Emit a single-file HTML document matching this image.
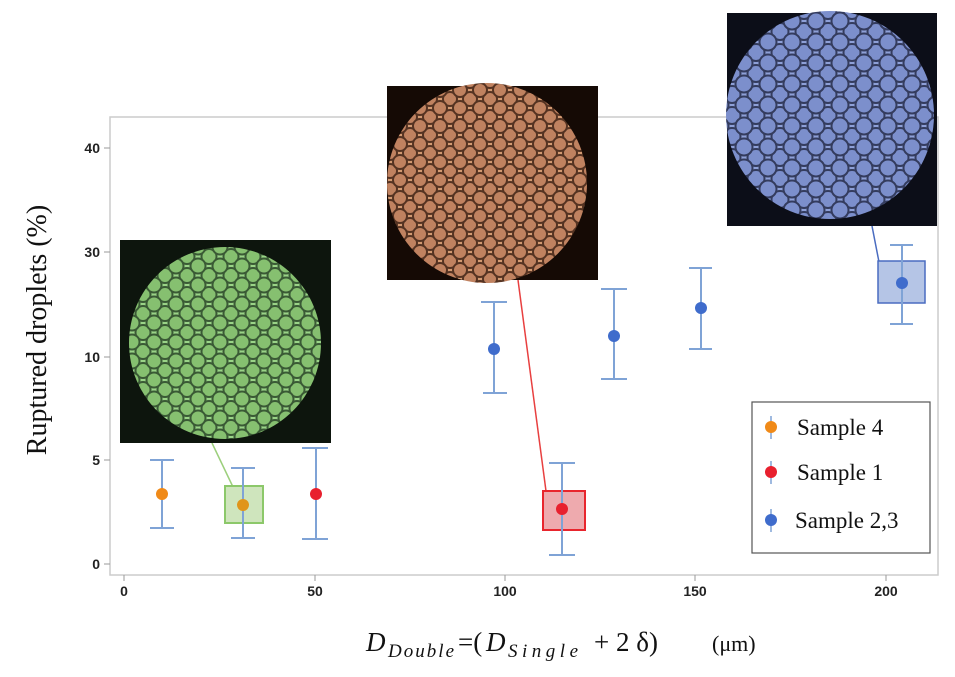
<!DOCTYPE html>
<html><head><meta charset="utf-8"><style>
body{margin:0;background:#fff;width:955px;height:672px;overflow:hidden}
</style></head><body>
<svg width="955" height="672" xmlns="http://www.w3.org/2000/svg" font-family="Liberation Sans, sans-serif">
<defs>
<pattern id="pg" width="22" height="19" patternUnits="userSpaceOnUse"><rect width="22" height="19" fill="#9ad487"/><circle cx="11" cy="9.5" r="7.5" fill="#86c070" stroke="#3a5a35" stroke-width="2"/><circle cx="0" cy="0" r="7.5" fill="#86c070" stroke="#3a5a35" stroke-width="2"/><circle cx="22" cy="0" r="7.5" fill="#86c070" stroke="#3a5a35" stroke-width="2"/><circle cx="0" cy="19" r="7.5" fill="#86c070" stroke="#3a5a35" stroke-width="2"/><circle cx="22" cy="19" r="7.5" fill="#86c070" stroke="#3a5a35" stroke-width="2"/></pattern>
<pattern id="po" width="20" height="18" patternUnits="userSpaceOnUse"><rect width="20" height="18" fill="#d39a72"/><circle cx="10" cy="9" r="7" fill="#c08260" stroke="#553322" stroke-width="2"/><circle cx="0" cy="0" r="7" fill="#c08260" stroke="#553322" stroke-width="2"/><circle cx="20" cy="0" r="7" fill="#c08260" stroke="#553322" stroke-width="2"/><circle cx="0" cy="18" r="7" fill="#c08260" stroke="#553322" stroke-width="2"/><circle cx="20" cy="18" r="7" fill="#c08260" stroke="#553322" stroke-width="2"/></pattern>
<pattern id="pb" width="24" height="21" patternUnits="userSpaceOnUse"><rect width="24" height="21" fill="#8ea0d8"/><circle cx="12" cy="10.5" r="8.5" fill="#7c8fcc" stroke="#343c5e" stroke-width="2"/><circle cx="0" cy="0" r="8.5" fill="#7c8fcc" stroke="#343c5e" stroke-width="2"/><circle cx="24" cy="0" r="8.5" fill="#7c8fcc" stroke="#343c5e" stroke-width="2"/><circle cx="0" cy="21" r="8.5" fill="#7c8fcc" stroke="#343c5e" stroke-width="2"/><circle cx="24" cy="21" r="8.5" fill="#7c8fcc" stroke="#343c5e" stroke-width="2"/></pattern>
</defs>
<rect x="110" y="117" width="828" height="458" fill="none" stroke="#ccc" stroke-width="1.5"/>
<g font-size="14" font-weight="bold" fill="#222" text-anchor="end">
<text x="100" y="153">40</text><text x="100" y="257">30</text><text x="100" y="362">10</text><text x="100" y="465">5</text><text x="100" y="569">0</text></g>
<g stroke="#999"><line x1="104" y1="148" x2="110" y2="148"/><line x1="104" y1="252" x2="110" y2="252"/><line x1="104" y1="357" x2="110" y2="357"/><line x1="104" y1="460" x2="110" y2="460"/><line x1="104" y1="564" x2="110" y2="564"/>
<line x1="124" y1="575" x2="124" y2="581"/><line x1="315" y1="575" x2="315" y2="581"/><line x1="505" y1="575" x2="505" y2="581"/><line x1="695" y1="575" x2="695" y2="581"/><line x1="886" y1="575" x2="886" y2="581"/></g>
<g font-size="14" font-weight="bold" fill="#222" text-anchor="middle">
<text x="124" y="596">0</text><text x="315" y="596">50</text><text x="505" y="596">100</text><text x="695" y="596">150</text><text x="886" y="596">200</text></g>
<text transform="translate(46,330) rotate(-90)" font-family="Liberation Serif, serif" font-size="28" text-anchor="middle" fill="#111">Ruptured droplets (%)</text>
<g font-family="Liberation Serif, serif" fill="#111">
<text x="366" y="651" font-size="27" font-style="italic">D</text>
<text x="388" y="657" font-size="19" font-style="italic" textLength="66">Double</text>
<text x="458" y="651" font-size="27">=(</text>
<text x="486" y="651" font-size="27" font-style="italic">D</text>
<text x="508" y="657" font-size="19" font-style="italic" textLength="70">Single</text>
<text x="594" y="651" font-size="27">+ 2 δ)</text>
<text x="712" y="651" font-size="22">(μm)</text>
</g>
<line x1="212" y1="443" x2="233" y2="487" stroke="#9ccf7c" stroke-width="1.5"/>
<line x1="518" y1="280" x2="546" y2="491" stroke="#e84040" stroke-width="1.5"/>
<line x1="872" y1="226" x2="879" y2="262" stroke="#4a6cc0" stroke-width="1.5"/>
<rect x="225" y="486" width="38" height="37" fill="#cfe5bd" stroke="#8cc86a" stroke-width="2"/>
<rect x="543" y="491" width="42" height="39" fill="#eeaaae" stroke="#e8252d" stroke-width="2"/>
<rect x="878" y="261" width="47" height="42" fill="#b5c5e6" stroke="#4a6cc0" stroke-width="1.5"/>
<g stroke="#7fa3d6" stroke-width="2" fill="none">
<path d="M162 460V528M150 460H174M150 528H174"/>
<path d="M243 468V538M231 468H255M231 538H255"/>
<path d="M316 448V539M302 448H328M302 539H328"/>
<path d="M494 302V393M481 302H507M483 393H507"/>
<path d="M562 463V555M549 463H575M549 555H575"/>
<path d="M614 289V379M601 289H627M601 379H627"/>
<path d="M701 268V349M689 268H712M689 349H712"/>
<path d="M902 245V324M890 245H913M890 324H913"/>
</g>
<circle cx="162" cy="494" r="6" fill="#f08a18"/>
<circle cx="243" cy="505" r="6" fill="#e0951a"/>
<circle cx="316" cy="494" r="6" fill="#e8202e"/>
<circle cx="494" cy="349" r="6" fill="#3f6ccc"/>
<circle cx="562" cy="509" r="6" fill="#e8202e"/>
<circle cx="614" cy="336" r="6" fill="#3f6ccc"/>
<circle cx="701" cy="308" r="6" fill="#3f6ccc"/>
<circle cx="902" cy="283" r="6" fill="#3f6ccc"/>
<rect x="120" y="240" width="211" height="203" fill="#0d150d"/>
<circle cx="225" cy="343" r="96" fill="url(#pg)"/>
<rect x="387" y="86" width="211" height="194" fill="#150a05"/>
<circle cx="487" cy="183" r="100" fill="url(#po)"/>
<rect x="727" y="13" width="210" height="213" fill="#0c0e18"/>
<circle cx="830" cy="115" r="104" fill="url(#pb)"/>
<rect x="752" y="402" width="178" height="151" fill="#fff" stroke="#555" stroke-width="1.2"/>
<g stroke="#7fa3d6" stroke-width="1.5"><line x1="771" y1="416" x2="771" y2="439"/><line x1="771" y1="461" x2="771" y2="484"/><line x1="771" y1="509" x2="771" y2="532"/></g>
<circle cx="771" cy="427" r="6" fill="#f08a18"/><circle cx="771" cy="472" r="6" fill="#e8202e"/><circle cx="771" cy="520" r="6" fill="#3f6ccc"/>
<g font-family="Liberation Serif, serif" font-size="23" fill="#111"><text x="797" y="435">Sample 4</text><text x="797" y="480">Sample 1</text><text x="795" y="528">Sample 2,3</text></g>
</svg>
</body></html>
